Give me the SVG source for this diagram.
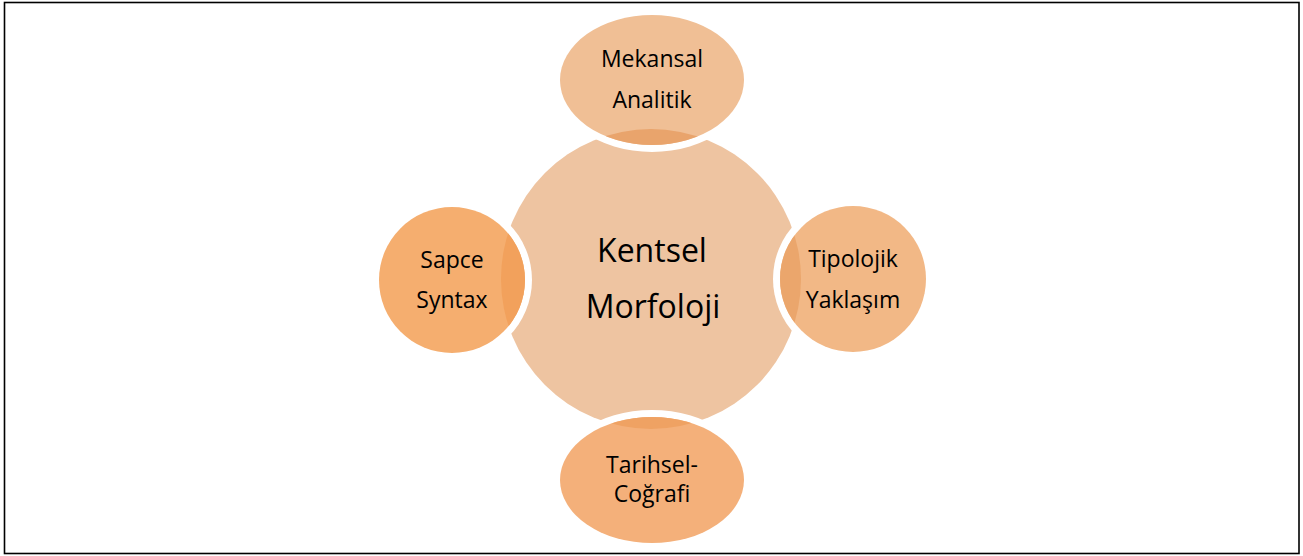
<svg xmlns="http://www.w3.org/2000/svg" width="1303" height="556" viewBox="0 0 1303 556">
<style>
.t{font-family:"Open Sans","Liberation Sans",sans-serif;fill:#000;text-anchor:middle}
.s{font-size:23px}
.c{font-size:32px}
</style>
<defs>
<clipPath id="cc"><circle cx="651" cy="279" r="150"/></clipPath>
</defs>
<rect x="4.5" y="2.5" width="1294.5" height="551" fill="#fff" stroke="#000" stroke-width="1.6"/>
<g id="center">
<circle cx="651" cy="279" r="150" fill="#EEC4A1"/>
<text class="t c" x="652" y="262">Kentsel</text>
<text class="t c" x="653" y="318">Morfoloji</text>
</g>
<g id="connectors"></g>
<g id="top">
<ellipse cx="652" cy="80" rx="99" ry="72" fill="#fff"/>
<ellipse cx="652" cy="80" rx="92" ry="65" fill="#F0BF95"/>
<ellipse cx="652" cy="80" rx="92" ry="65" fill="#E9A46C" clip-path="url(#cc)"/>
<text class="t s" x="652" y="67">Mekansal</text>
<text class="t s" x="652" y="108">Analitik</text>
</g>
<g id="left">
<circle cx="452" cy="280" r="80" fill="#fff"/>
<circle cx="452" cy="280" r="73" fill="#F5AE6F"/>
<circle cx="452" cy="280" r="73" fill="#F2A15C" clip-path="url(#cc)"/>
<text class="t s" x="452" y="268">Sapce</text>
<text class="t s" x="452" y="308">Syntax</text>
</g>
<g id="right">
<circle cx="853" cy="279" r="80" fill="#fff"/>
<circle cx="853" cy="279" r="73" fill="#F2B886"/>
<circle cx="853" cy="279" r="73" fill="#EBA66C" clip-path="url(#cc)"/>
<text class="t s" x="853" y="267">Tipolojik</text>
<text class="t s" x="853" y="308">Yaklaşım</text>
</g>
<g id="bottom">
<ellipse cx="652" cy="480" rx="99" ry="70" fill="#fff"/>
<ellipse cx="652" cy="480" rx="92" ry="63" fill="#F4B07A"/>
<ellipse cx="652" cy="480" rx="92" ry="63" fill="#EFA263" clip-path="url(#cc)"/>
<text class="t s" x="652" y="473">Tarihsel-</text>
<text class="t s" x="652" y="502">Coğrafi</text>
</g>
</svg>
